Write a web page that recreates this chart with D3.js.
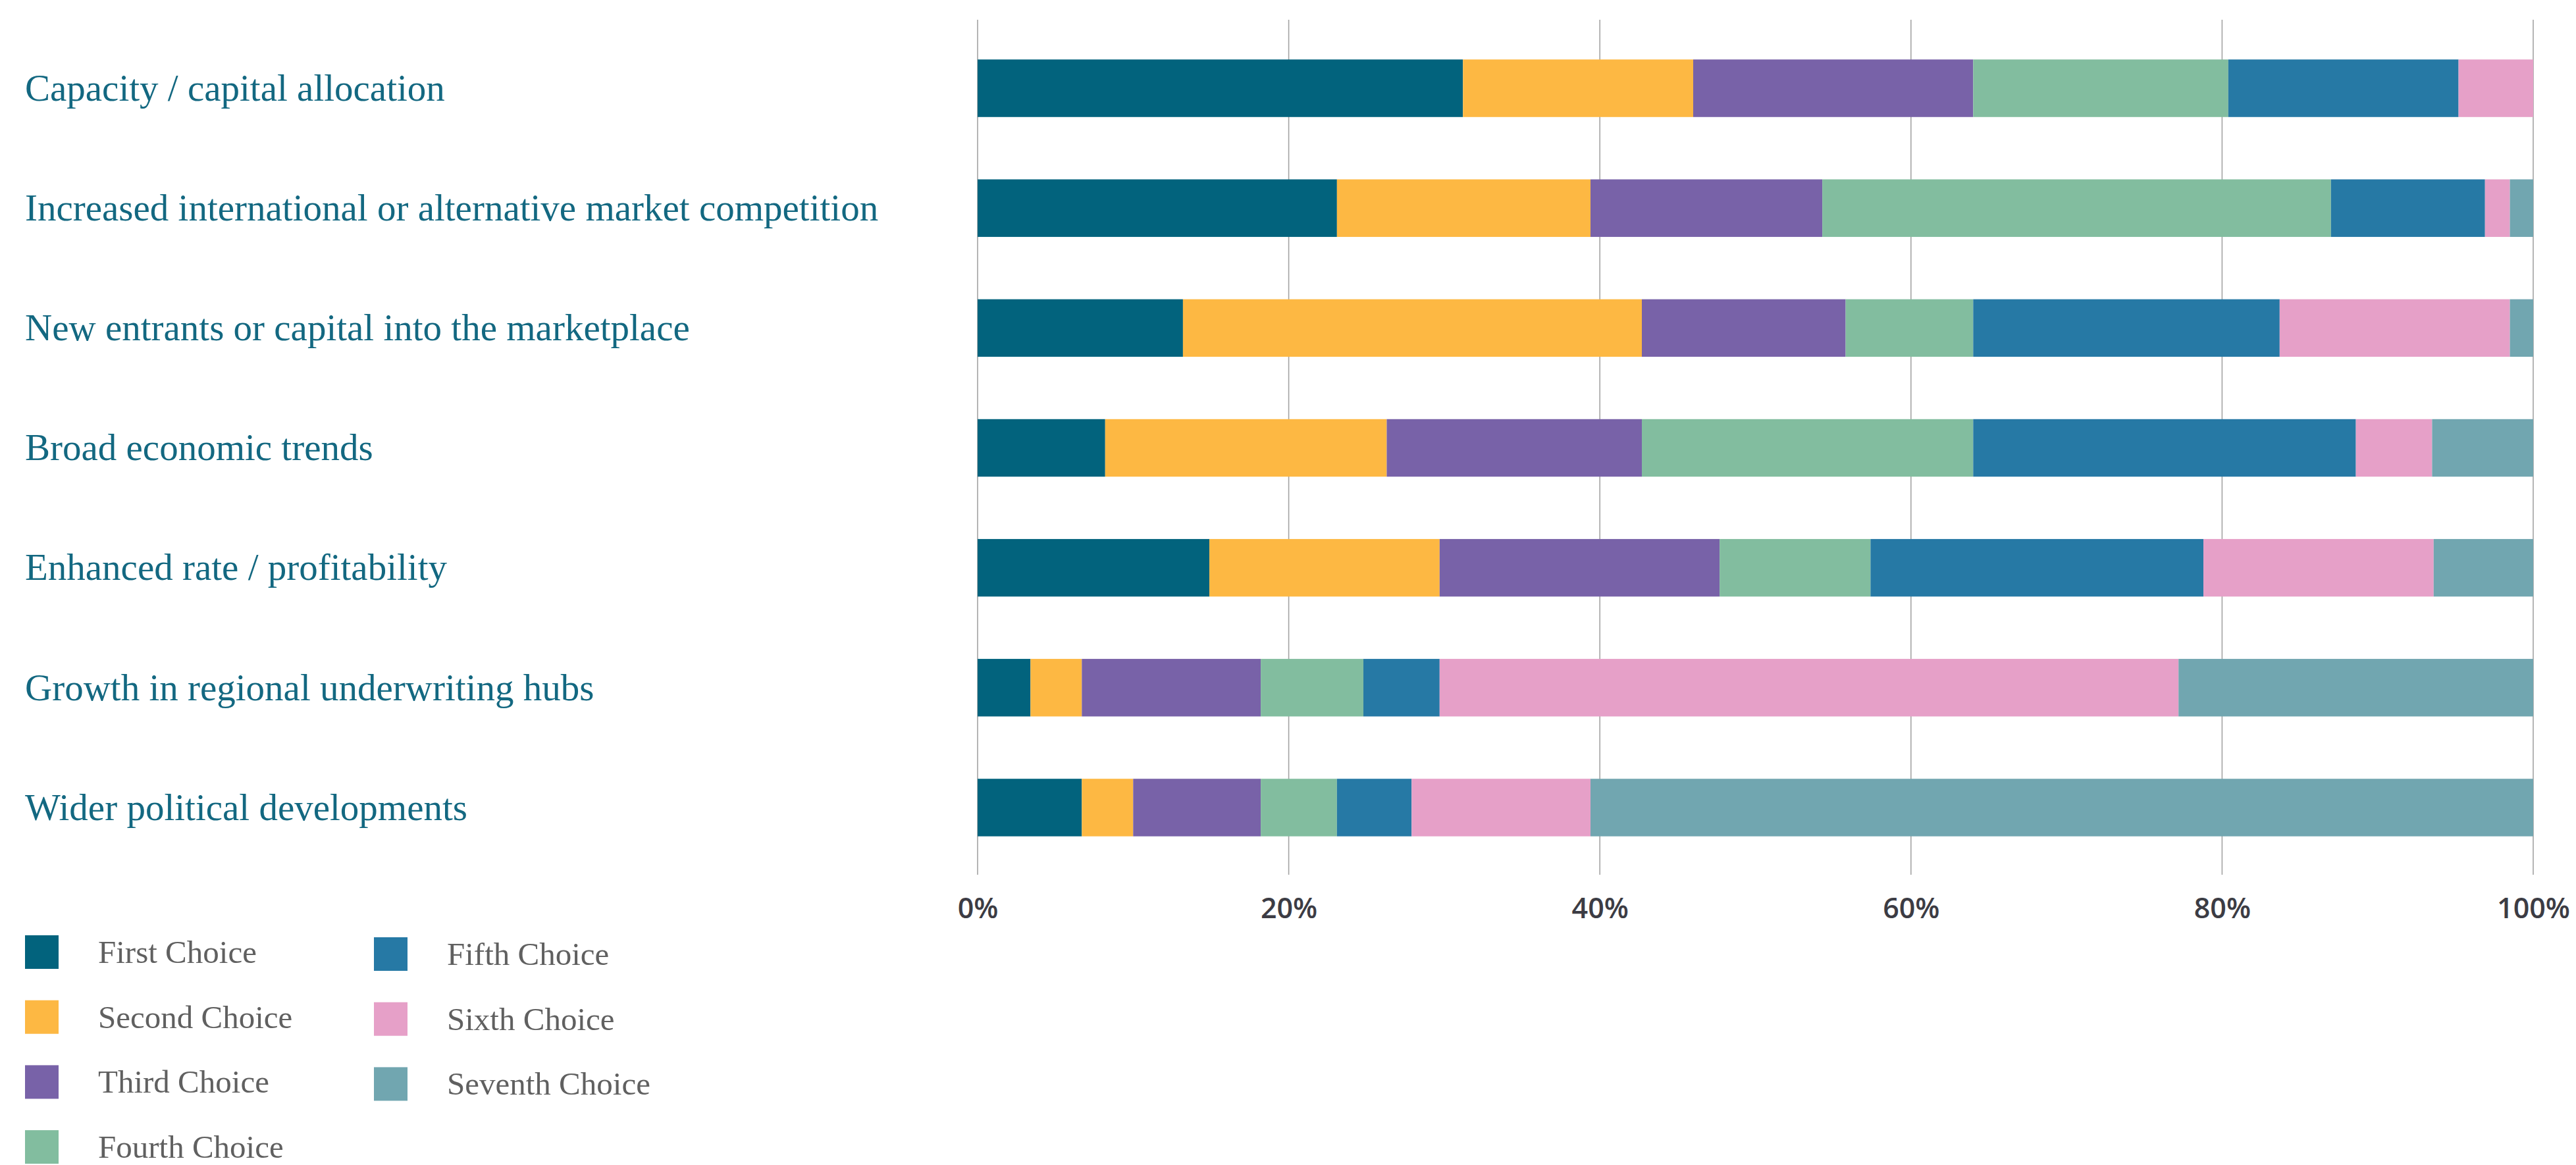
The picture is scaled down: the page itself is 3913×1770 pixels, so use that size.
<!DOCTYPE html>
<html>
<head>
<meta charset="utf-8">
<script src="https://cdn.jsdelivr.net/npm/d3@7"></script>
<style>
  body { margin: 0; background: #fff; }
  .cat { font-family: "Liberation Serif", serif; fill: #136881; }
  .tick-label { font-family: "Open Sans", sans-serif; font-weight: 600; fill: #3c3c44; }
  .leg { font-family: "Liberation Serif", serif; fill: #606060; }
</style>
</head>
<body>
<div id="chart"></div>
<script>
var svgWidth = 3913;
var svgHeight = 1770;

// categories, top to bottom
var categories = [
  "Capacity / capital allocation",
  "Increased international or alternative market competition",
  "New entrants or capital into the marketplace",
  "Broad economic trends",
  "Enhanced rate / profitability",
  "Growth in regional underwriting hubs",
  "Wider political developments"
];

var choiceNames = ["First Choice", "Second Choice", "Third Choice", "Fourth Choice",
  "Fifth Choice", "Sixth Choice", "Seventh Choice"];
var choiceColors = ["#02637d", "#fdb843", "#7862a8", "#82bd9f", "#2679a5", "#e6a0c8", "#71a6b0"];

// share of respondents (%) per category, one array per choice
var firstChoice   = [31.2, 23.1, 13.2,  8.2, 14.9,  3.4,  6.7];
var secondChoice  = [14.8, 16.3, 29.5, 18.1, 14.8,  3.3,  3.3];
var thirdChoice   = [18.0, 14.9, 13.1, 16.4, 18.0, 11.5,  8.2];
var fourthChoice  = [16.4, 32.7,  8.2, 21.3,  9.7,  6.6,  4.9];
var fifthChoice   = [14.8,  9.9, 19.7, 24.6, 21.4,  4.9,  4.8];
var sixthChoice   = [ 4.8,  1.6, 14.8,  4.9, 14.8, 47.5, 11.5];
var seventhChoice = [ 0.0,  1.5,  1.5,  6.5,  6.4, 22.8, 60.6];

var tickValues = [0, 20, 40, 60, 80, 100];

var series = [firstChoice, secondChoice, thirdChoice, fourthChoice, fifthChoice, sixthChoice, seventhChoice];

// build table rows for d3.stack
var rows = categories.map(function(c, i) {
  var row = { category: c };
  choiceNames.forEach(function(n, j) { row[n] = series[j][i]; });
  return row;
});

var svg = d3.select("#chart")
  .append("svg")
  .attr("width", svgWidth)
  .attr("height", svgHeight);

var x = d3.scaleLinear()
  .domain([0, 100])
  .range([1485, 3848]);

var y = d3.scaleBand()
  .domain(categories)
  .range([43, 1318])
  .paddingInner(0.52)
  .paddingOuter(0.26);

var gridTop = 30, gridBottom = 1329;

// gridlines
svg.append("g")
  .selectAll("line")
  .data(tickValues)
  .enter()
  .append("line")
  .attr("x1", d => x(d))
  .attr("x2", d => x(d))
  .attr("y1", gridTop)
  .attr("y2", gridBottom)
  .attr("stroke", "#a3a3a3")
  .attr("stroke-width", 1.6);

// x axis labels
var xAxis = d3.axisBottom(x)
  .tickValues(tickValues)
  .tickFormat(d => d + "%")
  .tickSize(0)
  .tickPadding(0);

var axisG = svg.append("g")
  .attr("transform", `translate(0, ${gridBottom})`)
  .call(xAxis);
axisG.select(".domain").remove();
axisG.selectAll("text")
  .attr("class", "tick-label")
  .attr("dy", null)
  .attr("y", 66)
  .attr("font-size", 43)
  .attr("fill", "#3c3c44");

// stacked bars
var stacked = d3.stack().keys(choiceNames)(rows);

svg.append("g")
  .selectAll("g")
  .data(stacked)
  .enter()
  .append("g")
  .attr("fill", (d, i) => choiceColors[i])
  .selectAll("rect")
  .data(d => d)
  .enter()
  .append("rect")
  .attr("x", d => x(d[0]))
  .attr("y", d => y(d.data.category))
  .attr("width", d => x(d[1]) - x(d[0]))
  .attr("height", y.bandwidth());

// category labels
svg.append("g")
  .selectAll("text")
  .data(categories)
  .enter()
  .append("text")
  .attr("class", "cat")
  .attr("x", 38)
  .attr("y", d => y(d) + y.bandwidth() / 2)
  .attr("dy", "0.33em")
  .attr("font-size", 57)
  .text(d => d);

// legend, two columns
var legend = svg.append("g")
  .selectAll("g")
  .data(choiceNames)
  .enter()
  .append("g")
  .attr("transform", function(d, i) {
    var col = i < 4 ? 0 : 1;
    var row = i < 4 ? i : i - 4;
    return `translate(${col ? 568 : 38}, ${1421 + col * 3 + row * 98.7})`;
  });

legend.append("rect")
  .attr("width", 51)
  .attr("height", 51)
  .attr("fill", (d, i) => choiceColors[i]);

legend.append("text")
  .attr("class", "leg")
  .attr("x", 111)
  .attr("y", 42)
  .attr("font-size", 49)
  .text(d => d);
</script>
</body>
</html>
